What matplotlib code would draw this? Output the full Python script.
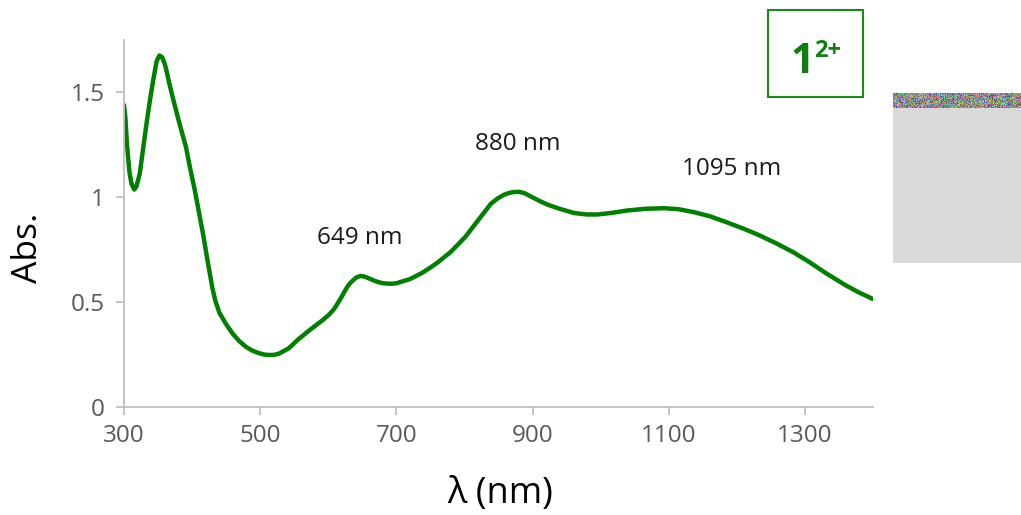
import numpy as np
import matplotlib
matplotlib.use("Agg")
import matplotlib.pyplot as plt
from matplotlib.patches import Rectangle
from matplotlib.ticker import FuncFormatter

# Absorption spectrum of 1^2+
wavelength_nm = [300, 302, 304, 306, 308, 311, 315, 318, 323, 328, 333, 338, 343, 348,
                 352, 356, 360, 363, 366, 372, 379, 385, 391, 397, 404, 410, 416, 421,
                 426, 430, 434, 440, 449, 459, 469, 479, 489, 498, 506, 513, 521, 528,
                 542, 555, 570, 582, 592, 601, 608, 613, 619, 625, 630, 635, 641, 647,
                 653, 660, 667, 674, 681, 688, 694, 700, 710, 720, 737, 750, 761, 780,
                 801, 820, 839, 849, 858, 865, 872, 880, 888, 895, 910, 922, 940, 961,
                 980, 995, 1015, 1039, 1065, 1093, 1115, 1137, 1160, 1185, 1210, 1233,
                 1258, 1283, 1307, 1331, 1360, 1380, 1400]
absorbance = [1.44, 1.38, 1.27, 1.19, 1.12, 1.065, 1.037, 1.05, 1.11, 1.23, 1.35, 1.46,
              1.56, 1.65, 1.676, 1.668, 1.635, 1.595, 1.55, 1.47, 1.382, 1.31, 1.24,
              1.14, 1.033, 0.93, 0.827, 0.73, 0.637, 0.565, 0.508, 0.45, 0.40, 0.352,
              0.315, 0.287, 0.268, 0.257, 0.25, 0.248, 0.249, 0.255, 0.28, 0.32, 0.36,
              0.39, 0.415, 0.44, 0.465, 0.49, 0.522, 0.557, 0.583, 0.60, 0.617, 0.625,
              0.622, 0.613, 0.603, 0.595, 0.59, 0.588, 0.588, 0.59, 0.60, 0.61, 0.638,
              0.665, 0.69, 0.74, 0.81, 0.89, 0.97, 0.995, 1.012, 1.02, 1.025, 1.026,
              1.02, 1.008, 0.983, 0.965, 0.945, 0.925, 0.918, 0.918, 0.925, 0.937, 0.945,
              0.948, 0.943, 0.929, 0.91, 0.881, 0.85, 0.819, 0.78, 0.738, 0.69, 0.638,
              0.58, 0.545, 0.515]

# Band labels: text, x (nm), y (Abs.)
peak_labels = ["649 nm", "880 nm", "1095 nm"]
peak_label_x = [646, 878, 1192]
peak_label_y = [0.805, 1.252, 1.133]

x_ticks = [300, 500, 700, 900, 1100, 1300]
y_ticks = [0, 0.5, 1, 1.5]

W, H = 1021, 515
FONT = "Open Sans"
GREEN = "#008000"
AXIS_GREY = "#bfbfbf"
TICK_TEXT = "#595959"

fig = plt.figure(figsize=(W / 100, H / 100), dpi=100)
ax = fig.add_axes([124 / W, 1 - 407 / H, (873 - 124) / W, (407 - 40) / H])

ax.plot(wavelength_nm, absorbance, color=GREEN, lw=3.2, solid_capstyle="round",
        solid_joinstyle="round")

ax.set_xlim(300, 1400)
ax.set_ylim(0, 1.75)
ax.set_xticks(x_ticks)
ax.set_yticks(y_ticks)
ax.yaxis.set_major_formatter(FuncFormatter(lambda v, _: f"{v:g}"))

for side in ("top", "right"):
    ax.spines[side].set_visible(False)
for side in ("left", "bottom"):
    ax.spines[side].set_color(AXIS_GREY)
    ax.spines[side].set_linewidth(1.3)

ax.tick_params(axis="both", direction="out", length=6, width=1.3, color=AXIS_GREY,
               labelcolor=TICK_TEXT, labelsize=17.5)
ax.tick_params(axis="x", pad=6)
ax.tick_params(axis="y", pad=8)
for lbl in ax.get_xticklabels() + ax.get_yticklabels():
    lbl.set_fontfamily(FONT)

for txt, tx, ty in zip(peak_labels, peak_label_x, peak_label_y):
    ax.text(tx, ty, txt, ha="center", va="center", fontsize=17.5, family=FONT,
            color="#1a1a1a")

# Axis titles
fig.text(28 / W, 1 - 248 / H, "Abs.", rotation=90, ha="center", va="center",
         fontsize=25.5, family=FONT, color="black")
fig.text(500 / W, 1 - 494 / H, "λ (nm)", ha="center", va="center",
         fontsize=26, family=FONT, color="black")

# Compound label box
fig.patches.append(Rectangle((768 / W, 1 - 97 / H), (863 - 768) / W, (97 - 10) / H,
                             transform=fig.transFigure, fill=False,
                             edgecolor="#1a8a1a", lw=1.5))
fig.text(791 / W, 1 - 73 / H, "1", ha="left", va="baseline", fontsize=30,
         family=FONT, weight="bold", color="#0f7f0f")
fig.text(814 / W, 1 - 57 / H, "2+", ha="left", va="baseline", fontsize=17,
         family=FONT, weight="bold", color="#0f7f0f")

# Grey side panel with a mottled top strip
fig.patches.append(Rectangle((893 / W, 1 - 263 / H), (W - 893) / W, (263 - 108) / H,
                             transform=fig.transFigure, facecolor="#d9d9d9",
                             edgecolor="none"))
rows, cols = 15, W - 893
jj, ii = np.meshgrid(np.arange(cols), np.arange(rows))
strip = np.empty((rows, cols, 3))
for k, (a, b) in enumerate([(12.9898, 78.233), (39.3467, 11.135), (73.156, 52.235)]):
    v = np.sin(ii * a + jj * b + k * 3.1) * 43758.5453
    strip[..., k] = v - np.floor(v)
strip = 0.25 + 0.6 * strip
fig.figimage(strip, xo=893, yo=H - 108, origin="upper", zorder=3)

fig.savefig("out.png", dpi=100)
